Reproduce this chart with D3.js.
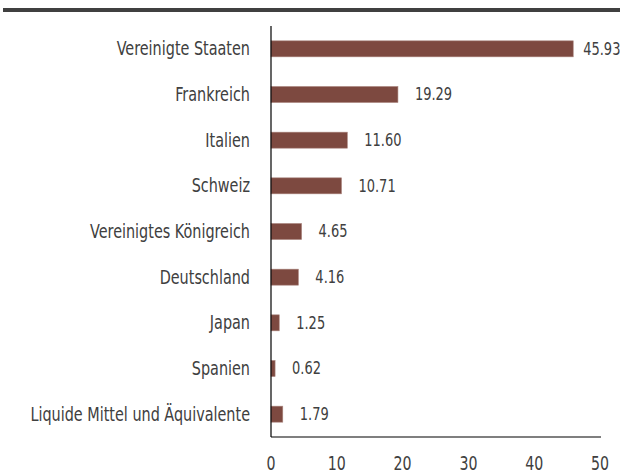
<!DOCTYPE html>
<html lang="de">
<head>
	<meta charset="utf-8">
	<title>Länderallokation</title>
	<script src="https://d3js.org/d3.v7.min.js"></script>
	<style>
		body { margin: 0; background: #fff; }
		svg text { fill: #404040; font-family: "DejaVu Sans Condensed", "DejaVu Sans", sans-serif; font-stretch: condensed; }
		.cat text { font-size: 20px; }
		.xaxis text { font-size: 19px; }
		.val text { font-size: 17px; }
	</style>
</head>
<body>
	<div id="chart"></div>
	<script>
		// Daten
		const categories = ["Vereinigte Staaten", "Frankreich", "Italien", "Schweiz",
			"Vereinigtes Königreich", "Deutschland", "Japan", "Spanien",
			"Liquide Mittel und Äquivalente"];
		const values = [45.93, 19.29, 11.60, 10.71, 4.65, 4.16, 1.25, 0.62, 1.79];
		const xTicks = [0, 10, 20, 30, 40, 50];

		const width = 620;
		const height = 472;
		const plotLeft = 271, plotRight = 600, plotTop = 26, plotBottom = 437;
		const squeeze = 0.8;     // Schrift schmaler ziehen
		const valSqueeze = 0.85;

		var svg = d3.select("#chart")
			.append("svg")
			.attr("width", width)
			.attr("height", height);

		// dunkler Balken oben
		svg.append("rect")
			.attr("x", 3).attr("y", 8)
			.attr("width", width - 3).attr("height", 4)
			.attr("fill", "#404040");

		let xScale = d3.scaleLinear()
			.domain([0, 50])
			.range([plotLeft, plotRight]);
		let yScale = d3.scaleBand()
			.domain(categories)
			.range([plotTop, plotBottom]);
		const barH = 16;
		const mid = c => yScale(c) + yScale.bandwidth() / 2;

		// Kategorien
		svg.append("g")
			.attr("class", "cat")
			.selectAll("g")
			.data(categories)
			.enter()
			.append("g")
			.attr("transform", d => "translate(" + (plotLeft - 21) + "," + mid(d) + ")")
			.append("text")
			.attr("transform", "scale(" + squeeze + ",1)")
			.attr("text-anchor", "end")
			.attr("dy", "0.32em")
			.text(d => d);

		// x-Achse Beschriftung
		svg.append("g")
			.attr("class", "xaxis")
			.selectAll("g")
			.data(xTicks)
			.enter()
			.append("g")
			.attr("transform", d => "translate(" + xScale(d) + "," + (plotBottom + 33) + ")")
			.append("text")
			.attr("transform", "scale(" + (squeeze + 0.03) + ",1)")
			.attr("text-anchor", "middle")
			.text(d => d);

		// Balken
		svg.selectAll("rect.bar")
			.data(values)
			.enter()
			.append("rect")
			.attr("class", "bar")
			.attr("x", xScale(0))
			.attr("y", (d, i) => mid(categories[i]) - barH / 2)
			.attr("width", d => xScale(d) - xScale(0))
			.attr("height", barH)
			.attr("fill", "#7d4940")
			.attr("stroke", "#a9847d")
			.attr("stroke-width", 0.6);

		// Werte
		svg.append("g")
			.attr("class", "val")
			.selectAll("g")
			.data(values)
			.enter()
			.append("g")
			.each(function(d, i) {
				let g = d3.select(this);
				let t = g.append("text")
					.attr("transform", "scale(" + valSqueeze + ",1)")
					.attr("dy", "0.35em")
					.text(d.toFixed(2));
				let w = t.node().getComputedTextLength() * valSqueeze;
				let x = xScale(d) + 17;
				if (x + w > width - 1) x = xScale(d) + 10;
				g.attr("transform", "translate(" + x + "," + mid(categories[i]) + ")");
			});

		// Achsenlinien
		svg.append("line")
			.attr("x1", plotLeft).attr("x2", plotLeft)
			.attr("y1", plotTop).attr("y2", plotBottom)
			.attr("stroke", "#000").attr("stroke-width", 1.2);
		svg.append("line")
			.attr("x1", plotLeft).attr("x2", plotRight + 1)
			.attr("y1", plotBottom).attr("y2", plotBottom)
			.attr("stroke", "#000").attr("stroke-width", 1.2);
	</script>
</body>
</html>
